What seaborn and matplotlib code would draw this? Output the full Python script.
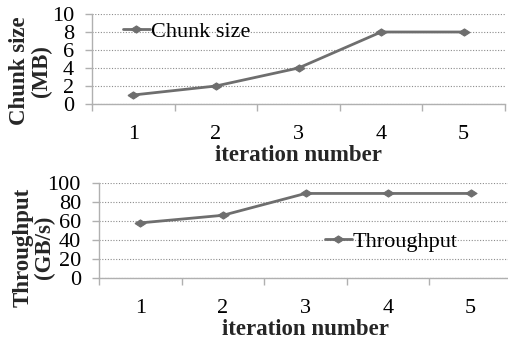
import matplotlib
matplotlib.use("Agg")
import matplotlib.pyplot as plt
import seaborn as sns
import pandas as pd
from matplotlib.ticker import FixedLocator

iterations = [1, 2, 3, 4, 5]
chunk_size = [1, 2, 4, 8, 8]
throughput = [58, 66, 89, 89, 89]
chunk_ticks = [0, 2, 4, 6, 8, 10]
tp_ticks = [0, 20, 40, 60, 80, 100]

sns.set_style("white")
plt.rcParams['font.family'] = ['Liberation Serif', 'DejaVu Serif']

LINE = '#6e6e6e'
SPINE = '#b0b0b0'
GRID = '#8c8c8c'
diamond = [(-1, 0), (0, 0.65), (1, 0), (0, -0.65), (-1, 0)]

fig = plt.figure(figsize=(5.08, 3.41), dpi=100)
W, H = 508, 341

def px_axes(l, t, r, b):
    return fig.add_axes([l / W, 1 - b / H, (r - l) / W, (b - t) / H])

ax1 = px_axes(92, 14, 505, 104)
ax2 = px_axes(99, 183, 512, 278)

df1 = pd.DataFrame({'iteration': iterations, 'value': chunk_size})
df2 = pd.DataFrame({'iteration': iterations, 'value': throughput})

configs = [
    (ax1, df1, 'Chunk size', chunk_ticks, 'Chunk size\n(MB)', (-0.148, 0.367), (0.075, 0.80)),
    (ax2, df2, 'Throughput', tp_ticks, 'Throughput\n(GB/s)', (-0.158, 0.32), (0.547, 0.38)),
]

for ax, df, name, yt, ylab, labpos, legpos in configs:
    sns.lineplot(data=df, x='iteration', y='value', ax=ax, color=LINE,
                 linewidth=2.0, marker=diamond, markersize=8,
                 markeredgecolor=LINE, markerfacecolor=LINE, label=name)
    ax.set_xlim(0.5, 5.5)
    ax.set_ylim(yt[0], yt[-1])
    ax.set_yticks(yt)
    ax.set_yticklabels([str(v) for v in yt])
    ax.set_xticks(iterations)
    ax.set_xticklabels([str(v) for v in iterations])
    ax.xaxis.set_minor_locator(FixedLocator([0.5, 1.5, 2.5, 3.5, 4.5, 5.5]))
    ax.tick_params(axis='x', which='major', length=0, pad=15, labelsize=16, colors='black')
    ax.tick_params(axis='x', which='minor', length=5, width=1, color=SPINE, direction='out', bottom=True)
    ax.tick_params(axis='y', which='major', length=5, width=1, color=SPINE, direction='out', left=True,
                   pad=8, labelsize=16, labelcolor='black')
    for s in ['top', 'right']:
        ax.spines[s].set_visible(False)
    for s in ['left', 'bottom']:
        ax.spines[s].set_color(SPINE)
        ax.spines[s].set_linewidth(1)
    ax.grid(axis='y', linestyle=(0, (1, 1.5)), color=GRID, linewidth=0.8)
    ax.grid(axis='x', visible=False)
    ax.set_xlabel('iteration number', fontsize=16.5, fontweight='bold', labelpad=1)
    ax.set_ylabel(ylab, fontsize=16.5, fontweight='bold', linespacing=1.05)
    ax.yaxis.label.set_va('center')
    ax.yaxis.set_label_coords(*labpos)
    leg = ax.legend(loc='center left', bbox_to_anchor=legpos, frameon=False,
                    fontsize=16, handlelength=1.2, handletextpad=0.05,
                    borderpad=0, borderaxespad=0)
    for t in leg.get_texts():
        t.set_color('black')
    ax.set_axisbelow(True)

fig.savefig('out.png', dpi=100)
